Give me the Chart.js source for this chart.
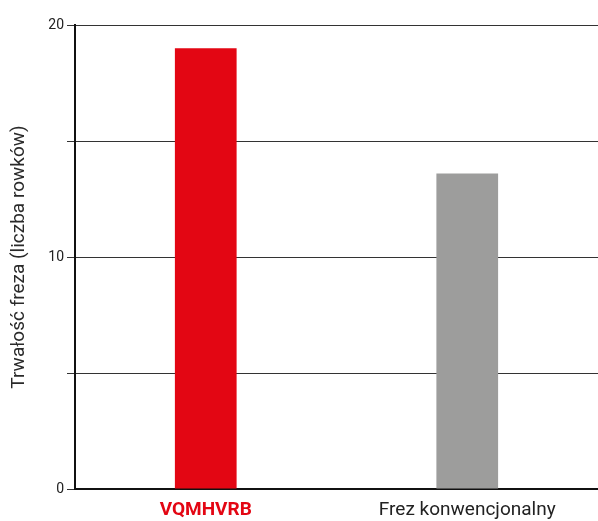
<!DOCTYPE html>
<html>
<head>
<meta charset="utf-8">
<script src="https://cdn.jsdelivr.net/npm/chart.js@4"></script>
<style>
  html, body { margin: 0; padding: 0; background: #fff; }
  #wrap { width: 598px; height: 521px; }
</style>
</head>
<body>
<div id="wrap"><canvas id="c" width="598" height="521"></canvas></div>
<script>
// Tool life comparison: number of grooves per cutter
const categories = ['VQMHVRB', 'Frez konwencjonalny'];
const grooveCounts = [19, 13.6];
const barColors = ['#e30613', '#9d9d9c'];
const labelColors = ['#e30613', '#222222'];
const labelWeights = ['bold', 'normal'];
const yTickLabels = [0, 10, 20];
const yTitle = 'Trwałość freza (liczba rowków)';

new Chart(document.getElementById('c'), {
  type: 'bar',
  data: {
    labels: categories,
    datasets: [{
      data: grooveCounts,
      backgroundColor: barColors,
      borderWidth: 0,
      barPercentage: 0.236,
      categoryPercentage: 1
    }]
  },
  options: {
    responsive: false,
    animation: false,
    layout: { padding: { top: 25, right: 0, bottom: 0, left: 0 } },
    plugins: { legend: { display: false }, tooltip: { enabled: false } },
    scales: {
      x: {
        grid: { display: false, drawTicks: false },
        border: { display: true, color: '#111', width: 2 },
        ticks: {
          padding: 10,
          color: ctx => labelColors[ctx.index],
          font: ctx => ({ family: 'Roboto', size: 19, weight: labelWeights[ctx.index] })
        },
        afterFit: s => { s.height = 32; }
      },
      y: {
        min: 0, max: 20,
        grid: { color: '#333', lineWidth: 1, tickLength: 8, drawTicks: true },
        border: { display: true, color: '#111', width: 2 },
        ticks: {
          stepSize: 5,
          padding: 3,
          color: '#222',
          font: { family: 'Roboto', size: 14 },
          callback: v => yTickLabels.includes(v) ? String(v) : ''
        },
        title: {
          display: true,
          text: yTitle,
          color: '#2a2a2a',
          font: { family: 'Roboto', size: 19, weight: 'normal' },
          padding: { top: 8, bottom: 10 }
        },
        afterFit: s => { s.width = 75; }
      }
    }
  }
});
</script>
</body>
</html>
